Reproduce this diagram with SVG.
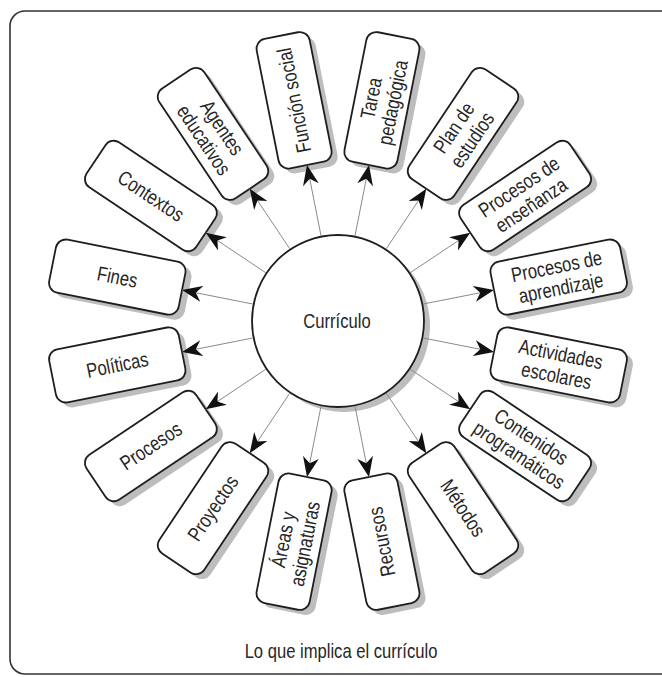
<svg xmlns="http://www.w3.org/2000/svg" width="662" height="677" viewBox="0 0 662 677">
  <style>
    .frame { fill: #ffffff; stroke: #333333; stroke-width: 1.6; }
    .box { fill: #ffffff; stroke: #1e1e1e; stroke-width: 1.8; }
    .hub { fill: #ffffff; stroke: #1e1e1e; stroke-width: 1.8; }
    .lbl { font-family: "Liberation Sans", Arial, Helvetica, sans-serif; font-size: 20.5px; fill: #262626; text-anchor: middle; }
    .link { stroke: #8a8a8a; stroke-width: 1; fill: none; marker-end: url(#ah); }
  </style>
  <defs>
    <marker id="ah" viewBox="0 0 20 16" refX="20" refY="8" markerWidth="20" markerHeight="16" markerUnits="userSpaceOnUse" orient="auto">
      <path d="M20,8 L0,0 L6,8 L0,16 Z" fill="#111111"/>
    </marker>
    <rect id="card" x="-66" y="-27" width="132" height="54" rx="10" ry="10"/>
  </defs>

  <!-- outer frame -->
  <rect class="frame" x="10" y="11" width="700" height="663" rx="15" ry="15"/>

  <!-- ring of topic cards, 22.5 degrees apart; each card sits on an offset grey backing -->
  <g id="n-funcion-social">
    <use href="#card" fill="#bdbdbd" transform="translate(300.1,105.3) rotate(-101.25)"/>
    <use href="#card" class="box" transform="translate(294.1,100.3) rotate(-101.25)"/>
    <g transform="translate(294.1,100.3) rotate(-101.25) scale(0.81,1)">
      <text class="lbl" x="0" y="7">Función social</text>
    </g>
  </g>
  <g id="n-tarea">
    <use href="#card" fill="#bdbdbd" transform="translate(387.9,105.3) rotate(-78.75)"/>
    <use href="#card" class="box" transform="translate(381.9,100.3) rotate(-78.75)"/>
    <g transform="translate(381.9,100.3) rotate(-78.75) scale(0.81,1)">
      <text class="lbl" x="0" y="-4">Tarea</text>
      <text class="lbl" x="0" y="18">pedagógica</text>
    </g>
  </g>
  <g id="n-plan">
    <use href="#card" fill="#bdbdbd" transform="translate(469,138.9) rotate(-56.25)"/>
    <use href="#card" class="box" transform="translate(463,133.9) rotate(-56.25)"/>
    <g transform="translate(463,133.9) rotate(-56.25) scale(0.81,1)">
      <text class="lbl" x="0" y="-4">Plan de</text>
      <text class="lbl" x="0" y="18">estudios</text>
    </g>
  </g>
  <g id="n-ensenanza">
    <use href="#card" fill="#bdbdbd" transform="translate(531.1,201) rotate(-33.75)"/>
    <use href="#card" class="box" transform="translate(525.1,196) rotate(-33.75)"/>
    <g transform="translate(525.1,196) rotate(-33.75) scale(0.81,1)">
      <text class="lbl" x="0" y="-4">Procesos de</text>
      <text class="lbl" x="0" y="18">enseñanza</text>
    </g>
  </g>
  <g id="n-aprendizaje">
    <use href="#card" fill="#bdbdbd" transform="translate(564.7,282.1) rotate(-11.25)"/>
    <use href="#card" class="box" transform="translate(558.7,277.1) rotate(-11.25)"/>
    <g transform="translate(558.7,277.1) rotate(-11.25) scale(0.81,1)">
      <text class="lbl" x="0" y="-4">Procesos de</text>
      <text class="lbl" x="0" y="18">aprendizaje</text>
    </g>
  </g>
  <g id="n-actividades">
    <use href="#card" fill="#bdbdbd" transform="translate(564.7,369.9) rotate(11.25)"/>
    <use href="#card" class="box" transform="translate(558.7,364.9) rotate(11.25)"/>
    <g transform="translate(558.7,364.9) rotate(11.25) scale(0.81,1)">
      <text class="lbl" x="0" y="-4">Actividades</text>
      <text class="lbl" x="0" y="18">escolares</text>
    </g>
  </g>
  <g id="n-contenidos">
    <use href="#card" fill="#bdbdbd" transform="translate(531.1,451) rotate(33.75)"/>
    <use href="#card" class="box" transform="translate(525.1,446) rotate(33.75)"/>
    <g transform="translate(525.1,446) rotate(33.75) scale(0.81,1)">
      <text class="lbl" x="0" y="-4">Contenidos</text>
      <text class="lbl" x="0" y="18">programáticos</text>
    </g>
  </g>
  <g id="n-metodos">
    <use href="#card" fill="#bdbdbd" transform="translate(469,513.1) rotate(56.25)"/>
    <use href="#card" class="box" transform="translate(463,508.1) rotate(56.25)"/>
    <g transform="translate(463,508.1) rotate(56.25) scale(0.81,1)">
      <text class="lbl" x="0" y="7">Métodos</text>
    </g>
  </g>
  <g id="n-recursos">
    <use href="#card" fill="#bdbdbd" transform="translate(387.9,546.7) rotate(-101.25)"/>
    <use href="#card" class="box" transform="translate(381.9,541.7) rotate(-101.25)"/>
    <g transform="translate(381.9,541.7) rotate(-101.25) scale(0.81,1)">
      <text class="lbl" x="0" y="7">Recursos</text>
    </g>
  </g>
  <g id="n-areas">
    <use href="#card" fill="#bdbdbd" transform="translate(300.1,546.7) rotate(-78.75)"/>
    <use href="#card" class="box" transform="translate(294.1,541.7) rotate(-78.75)"/>
    <g transform="translate(294.1,541.7) rotate(-78.75) scale(0.81,1)">
      <text class="lbl" x="0" y="-4">Áreas y</text>
      <text class="lbl" x="0" y="18">asignaturas</text>
    </g>
  </g>
  <g id="n-proyectos">
    <use href="#card" fill="#bdbdbd" transform="translate(219,513.1) rotate(-56.25)"/>
    <use href="#card" class="box" transform="translate(213,508.1) rotate(-56.25)"/>
    <g transform="translate(213,508.1) rotate(-56.25) scale(0.81,1)">
      <text class="lbl" x="0" y="7">Proyectos</text>
    </g>
  </g>
  <g id="n-procesos">
    <use href="#card" fill="#bdbdbd" transform="translate(156.9,451) rotate(-33.75)"/>
    <use href="#card" class="box" transform="translate(150.9,446) rotate(-33.75)"/>
    <g transform="translate(150.9,446) rotate(-33.75) scale(0.81,1)">
      <text class="lbl" x="0" y="7">Procesos</text>
    </g>
  </g>
  <g id="n-politicas">
    <use href="#card" fill="#bdbdbd" transform="translate(123.3,369.9) rotate(-11.25)"/>
    <use href="#card" class="box" transform="translate(117.3,364.9) rotate(-11.25)"/>
    <g transform="translate(117.3,364.9) rotate(-11.25) scale(0.81,1)">
      <text class="lbl" x="0" y="7">Políticas</text>
    </g>
  </g>
  <g id="n-fines">
    <use href="#card" fill="#bdbdbd" transform="translate(123.3,282.1) rotate(11.25)"/>
    <use href="#card" class="box" transform="translate(117.3,277.1) rotate(11.25)"/>
    <g transform="translate(117.3,277.1) rotate(11.25) scale(0.81,1)">
      <text class="lbl" x="0" y="7">Fines</text>
    </g>
  </g>
  <g id="n-contextos">
    <use href="#card" fill="#bdbdbd" transform="translate(156.9,201) rotate(33.75)"/>
    <use href="#card" class="box" transform="translate(150.9,196) rotate(33.75)"/>
    <g transform="translate(150.9,196) rotate(33.75) scale(0.81,1)">
      <text class="lbl" x="0" y="7">Contextos</text>
    </g>
  </g>
  <g id="n-agentes">
    <use href="#card" fill="#bdbdbd" transform="translate(219,138.9) rotate(56.25)"/>
    <use href="#card" class="box" transform="translate(213,133.9) rotate(56.25)"/>
    <g transform="translate(213,133.9) rotate(56.25) scale(0.81,1)">
      <text class="lbl" x="0" y="-4">Agentes</text>
      <text class="lbl" x="0" y="18">educativos</text>
    </g>
  </g>

  <!-- central hub -->
  <g id="n-curriculo">
    <circle fill="#bdbdbd" cx="344" cy="326" r="86"/>
    <circle class="hub" cx="338" cy="321" r="86"/>
    <g transform="translate(337,328) scale(0.81,1)">
      <text class="lbl" x="0" y="0">Currículo</text>
    </g>
  </g>

  <!-- radial connectors from the hub to each card -->
  <g id="connectors">
    <line class="link" x1="321" y1="235.7" x2="307" y2="165.1"/>
    <line class="link" x1="355" y1="235.7" x2="369" y2="165.1"/>
    <line class="link" x1="386.3" y1="248.7" x2="426.3" y2="188.8"/>
    <line class="link" x1="410.3" y1="272.7" x2="470.2" y2="232.7"/>
    <line class="link" x1="423.3" y1="304" x2="494" y2="290"/>
    <line class="link" x1="423.3" y1="338" x2="494" y2="352"/>
    <line class="link" x1="410.3" y1="369.3" x2="470.2" y2="409.3"/>
    <line class="link" x1="386.3" y1="393.3" x2="426.3" y2="453.2"/>
    <line class="link" x1="355" y1="406.3" x2="369" y2="477"/>
    <line class="link" x1="321" y1="406.3" x2="307" y2="477"/>
    <line class="link" x1="289.7" y1="393.3" x2="249.7" y2="453.2"/>
    <line class="link" x1="265.7" y1="369.3" x2="205.8" y2="409.3"/>
    <line class="link" x1="252.7" y1="338" x2="182.1" y2="352"/>
    <line class="link" x1="252.7" y1="304" x2="182.1" y2="290"/>
    <line class="link" x1="265.7" y1="272.7" x2="205.8" y2="232.7"/>
    <line class="link" x1="289.7" y1="248.7" x2="249.7" y2="188.8"/>
  </g>

  <!-- caption -->
  <g transform="translate(341,658) scale(0.81,1)">
    <text class="lbl" x="0" y="0">Lo que implica el currículo</text>
  </g>
</svg>
